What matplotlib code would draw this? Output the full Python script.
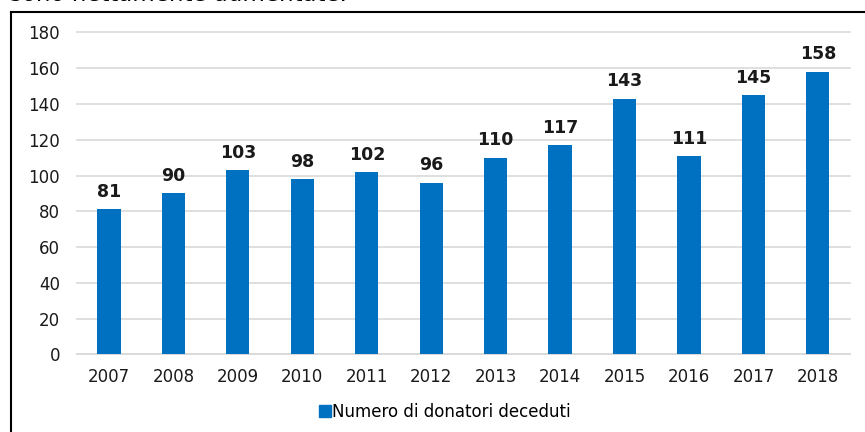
import matplotlib.pyplot as plt
from matplotlib.lines import Line2D
import numpy as np

plt.rcParams['font.family'] = ['DejaVu Sans']

years = ['2007', '2008', '2009', '2010', '2011', '2012',
         '2013', '2014', '2015', '2016', '2017', '2018']
donors = [81, 90, 103, 98, 102, 96, 110, 117, 143, 111, 145, 158]
y_ticks = [0, 20, 40, 60, 80, 100, 120, 140, 160, 180]
series_label = 'Numero di donatori deceduti'
caption = 'sono nettamente aumentate.'

blue = '#0070C0'
grid_col = '#D9D9D9'

fig = plt.figure(figsize=(8.65, 4.32), dpi=100)
ax = fig.add_axes([0.0888, 0.1799, 0.8939, 0.7449])

x = np.arange(len(years))
bars = ax.bar(x, donors, width=0.36, color=blue, zorder=3)

# value labels above the bars
for xi, v in zip(x, donors):
    ax.annotate(str(v), (xi, v), xytext=(0, 6), textcoords='offset points',
                ha='center', va='bottom', fontsize=12.5, fontweight='bold',
                color='#1a1a1a')

ax.set_xlim(-0.5, len(years) - 0.5)
ax.set_ylim(0, 180)
ax.set_yticks(y_ticks)
ax.set_xticks(x)
ax.set_xticklabels(years)
ax.yaxis.grid(True, color=grid_col, linewidth=1.2, zorder=0)
for gl in ax.get_ygridlines():
    gl.set_clip_on(False)
ax.tick_params(axis='both', length=0, labelsize=12, colors='#1a1a1a')
ax.tick_params(axis='y', pad=12)
ax.tick_params(axis='x', pad=10)
for side in ['top', 'right', 'left']:
    ax.spines[side].set_visible(False)
ax.spines['bottom'].set_color(grid_col)
ax.spines['bottom'].set_linewidth(1.2)

handle = Line2D([], [], marker='s', linestyle='none', markersize=8.5,
                markerfacecolor=blue, markeredgecolor=blue)
fig.legend([handle], [series_label], loc='center', bbox_to_anchor=(0.514, 0.046),
           frameon=False, fontsize=12, handletextpad=0.05, handlelength=0.8)

# frame around the chart (only left and top visible in the crop)
fig.add_artist(Line2D([0.0122, 0.0122], [0.0, 0.972], color='black',
                      linewidth=1.5, transform=fig.transFigure))
fig.add_artist(Line2D([0.0122, 1.0], [0.972, 0.972], color='black',
                      linewidth=1.5, transform=fig.transFigure))

# cut-off sentence from the surrounding document
fig.text(0.011, 1.012, caption, ha='left', va='center', fontsize=16.5,
         color='black')

fig.savefig('out.png', dpi=100)
